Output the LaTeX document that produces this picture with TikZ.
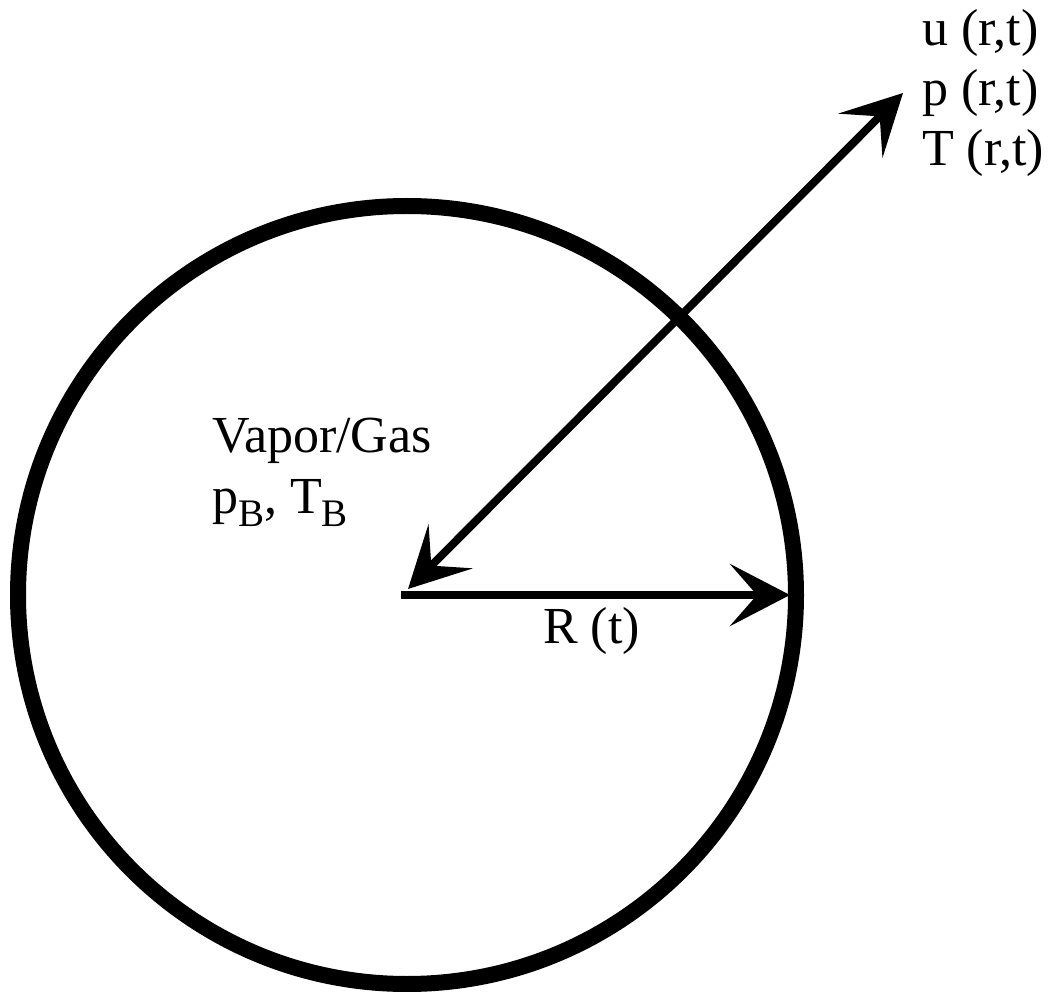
\documentclass[tikz,border=0pt]{standalone}
\usepackage{fontspec}
\setmainfont{Liberation Serif}
\newfontfamily\tms{Liberation Serif}
\usetikzlibrary{arrows.meta}
\tikzset{
  lbl/.style={anchor=base west, inner sep=0pt, font=\tms\fontsize{52}{60}\selectfont},
  arr/.style={line width=8pt, -{Stealth[length=60pt, width=62pt, inset=27pt]}},
  darr/.style={line width=8pt, {Stealth[length=60pt, width=62pt, inset=27pt]}-{Stealth[length=60pt, width=62pt, inset=27pt]}},
  rim/.style={line width=16pt}
}
\newcommand{\sbB}{\raisebox{-13pt}{\tms\fontsize{39}{39}\selectfont B}}
\begin{document}
\begin{tikzpicture}[x=1pt, y=-1pt]
\useasboundingbox (0,0) rectangle (1053,992);
\coordinate (c) at (407,595);
\coordinate (hs) at (401,595);
\coordinate (he) at (790,595);
\coordinate (ds) at (408,589);
\coordinate (de) at (903,93);
\draw[rim] (c) circle (389);
\draw[arr] (hs) -- (he);
\draw[darr] (ds) -- (de);
\node[lbl] (u) at (922,46) {u (r,t)};
\node[lbl] (p) at (922,106) {p (r,t)};
\node[lbl] (T) at (922,166) {T (r,t)};
\node[lbl] (vg) at (212,453) {Vapor/Gas};
\node[lbl] (pb) at (212,513) {p\sbB, T\sbB};
\node[lbl] (R) at (543,643) {R (t)};
\end{tikzpicture}
\end{document}
